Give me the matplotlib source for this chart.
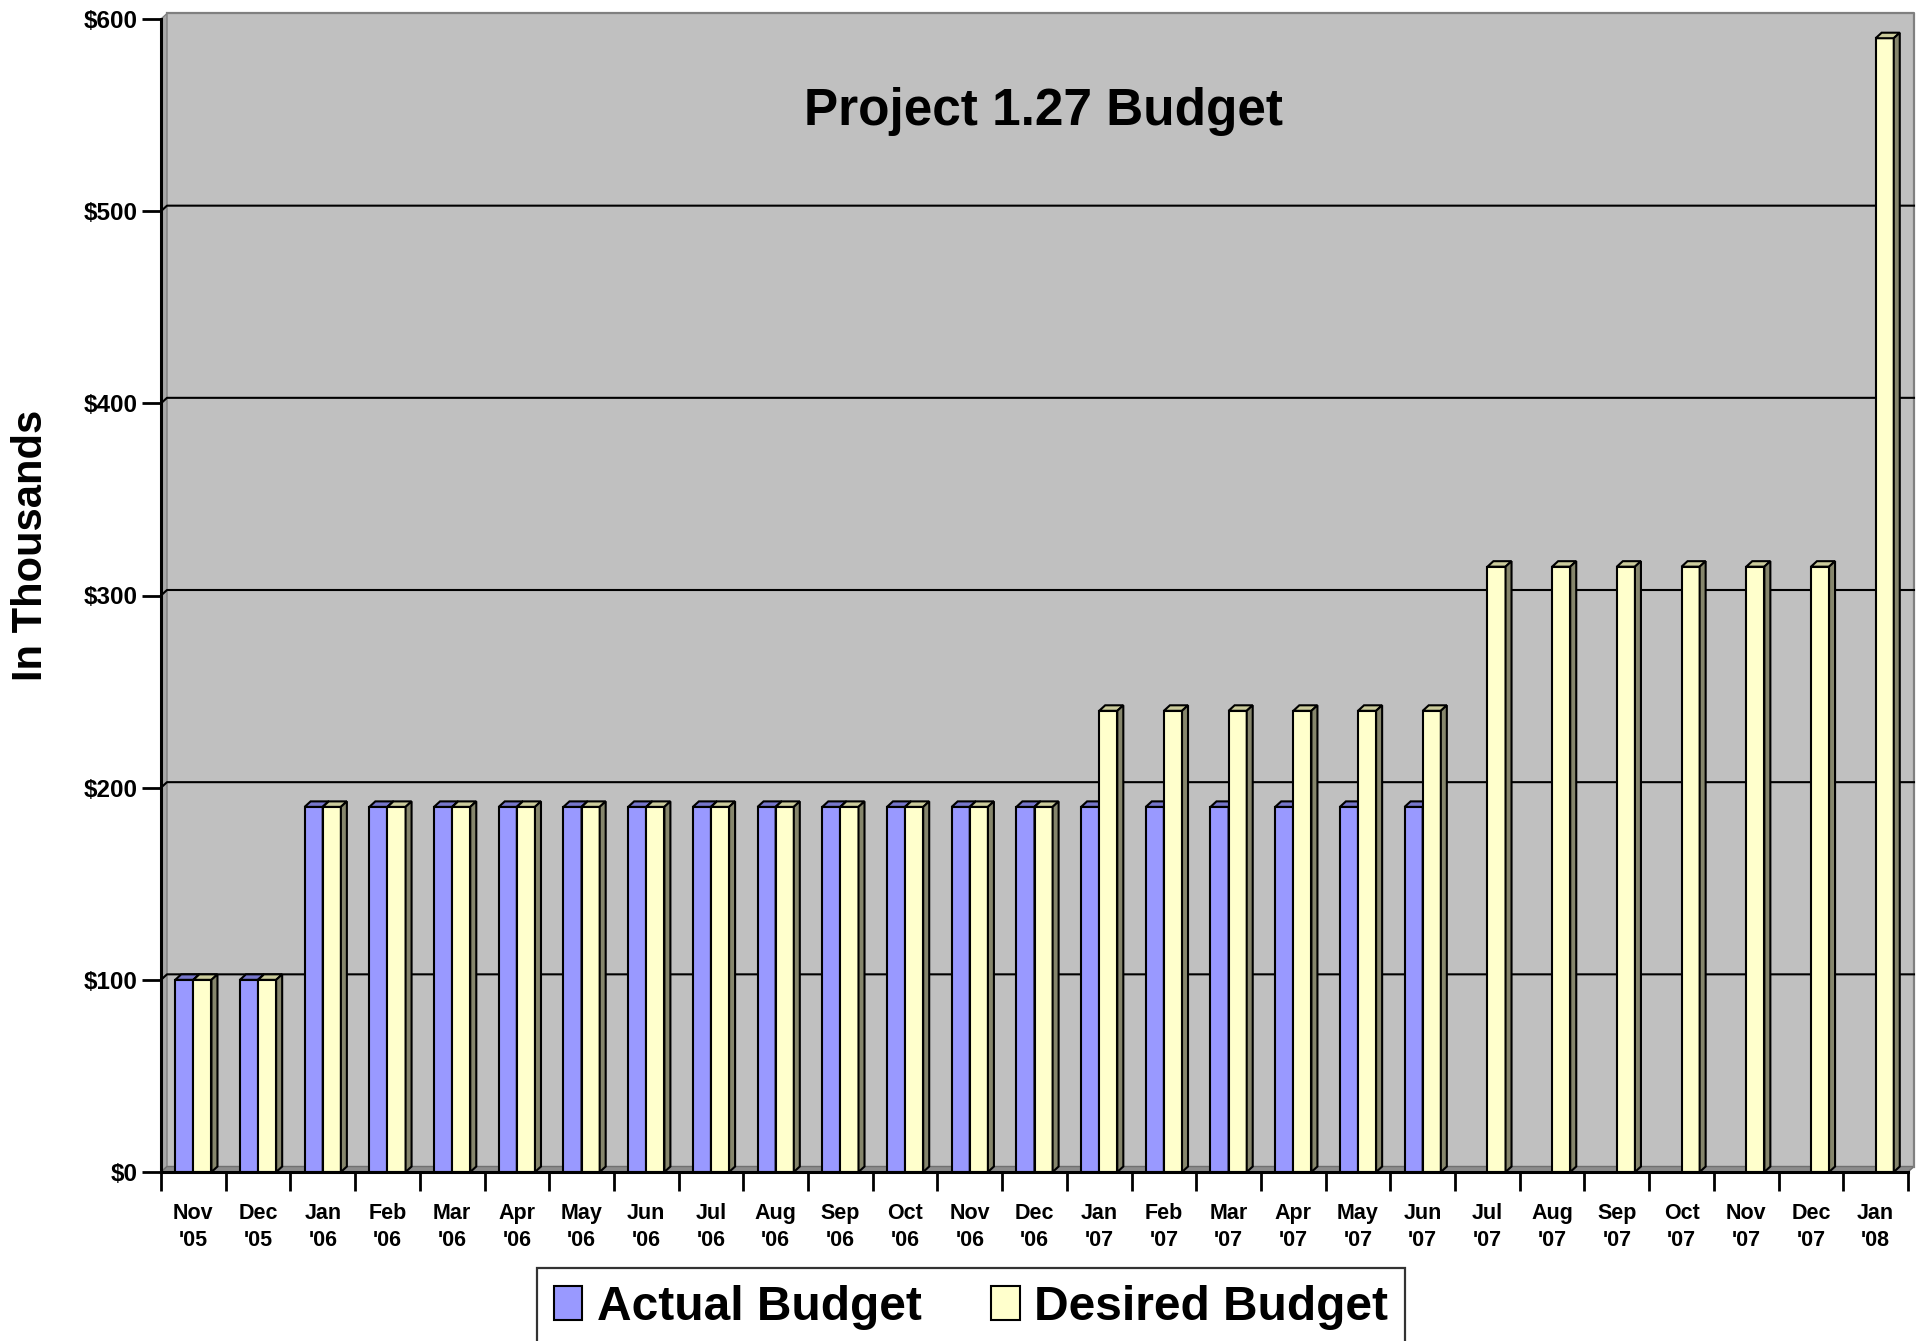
import numpy as np
import matplotlib.pyplot as plt
from matplotlib.patches import Polygon, Patch, Rectangle

plt.rcParams['font.family'] = ['Liberation Sans', 'DejaVu Sans']
plt.rcParams['font.weight'] = 'bold'

months = ["Nov\n'05", "Dec\n'05", "Jan\n'06", "Feb\n'06", "Mar\n'06", "Apr\n'06",
          "May\n'06", "Jun\n'06", "Jul\n'06", "Aug\n'06", "Sep\n'06", "Oct\n'06",
          "Nov\n'06", "Dec\n'06", "Jan\n'07", "Feb\n'07", "Mar\n'07", "Apr\n'07",
          "May\n'07", "Jun\n'07", "Jul\n'07", "Aug\n'07", "Sep\n'07", "Oct\n'07",
          "Nov\n'07", "Dec\n'07", "Jan\n'08"]
actual = [100, 100, 190, 190, 190, 190, 190, 190, 190, 190, 190, 190, 190, 190,
          190, 190, 190, 190, 190, 190, None, None, None, None, None, None, None]
desired = [100, 100, 190, 190, 190, 190, 190, 190, 190, 190, 190, 190, 190, 190,
           240, 240, 240, 240, 240, 240, 315, 315, 315, 315, 315, 315, 590]
yticks = [0, 100, 200, 300, 400, 500, 600]
ytick_labels = ["$0", "$100", "$200", "$300", "$400", "$500", "$600"]

series = [("Actual Budget", actual, "#9999ff", "#7777cc", "#55558a"),
          ("Desired Budget", desired, "#ffffcc", "#cccc9c", "#86866c")]

W, H = 1925, 1341
fig = plt.figure(figsize=(W / 100, H / 100), dpi=100)
ax = fig.add_axes([161 / W, (H - 1172) / H, 1747 / W, (1172 - 19) / H])
n = len(months)
ax.set_xlim(0, n)
ax.set_ylim(0, 600)
ax.set_facecolor("none")

# 3d depth in data units
ax_w = ax.get_position().width * W
ax_h = ax.get_position().height * H
dx = 6 * n / ax_w
dy = 5.5 * 600 / ax_h
bw = 0.28

# back wall, side wall, floor
ax.add_patch(Rectangle((dx, dy), n, 600, facecolor="#c0c0c0", edgecolor="none",
                       clip_on=False, zorder=0))
ax.plot([dx, n + dx, n + dx], [600 + dy, 600 + dy, dy], color="#808080", lw=1.6,
        clip_on=False, zorder=0.5)
ax.add_patch(Polygon([(0, 0), (0, 600), (dx, 600 + dy), (dx, dy)], closed=True,
                     facecolor="#a8a8a8", edgecolor="#808080", lw=1, clip_on=False, zorder=0.4))
ax.add_patch(Polygon([(0, 0), (n, 0), (n + dx, dy), (dx, dy)], closed=True,
                     facecolor="#8c8c8c", edgecolor="#707070", lw=1, clip_on=False, zorder=0.4))
for y in yticks[1:-1]:
    ax.plot([0, dx, n + dx], [y, y + dy, y + dy], color="black", lw=1.5,
            clip_on=False, zorder=1)

# bars with top and side faces
for k, (name, vals, front, top, side) in enumerate(series):
    z = 3 + k
    for i, v in enumerate(vals):
        if v is None:
            continue
        x0 = i + 0.5 - bw + k * bw
        x1 = x0 + bw
        ax.bar(x0, v, width=bw, align="edge", color=front, edgecolor="black",
               lw=1.5, zorder=z, clip_on=False)
        ax.add_patch(Polygon([(x0, v), (x1, v), (x1 + dx, v + dy), (x0 + dx, v + dy)],
                             closed=True, facecolor=top, edgecolor="black", lw=1.5,
                             zorder=z, clip_on=False))
        ax.add_patch(Polygon([(x1, 0), (x1, v), (x1 + dx, v + dy), (x1 + dx, dy)],
                             closed=True, facecolor=side, edgecolor="black", lw=1.5,
                             zorder=z, clip_on=False))

for s in ("top", "right"):
    ax.spines[s].set_visible(False)
for s in ("left", "bottom"):
    ax.spines[s].set_linewidth(2.2)
    ax.spines[s].set_zorder(6)

ax.set_yticks(yticks)
ax.set_yticklabels(ytick_labels, fontsize=17.5, fontweight="bold")
ax.tick_params(axis="y", length=13.5, width=2, pad=3.5, direction="out")
ax.set_xticks(np.arange(n + 1))
ax.set_xticklabels([])
ax.tick_params(axis="x", which="major", length=13.5, width=2, direction="out")
ax.set_xticks(np.arange(n) + 0.5, minor=True)
ax.set_xticklabels(months, minor=True, fontsize=15.5, fontweight="bold", linespacing=1.4)
ax.tick_params(axis="x", which="minor", length=0, pad=22)

fig.text(1044 / W, 1 - 125 / H, "Project 1.27 Budget", ha="center", va="baseline",
         fontsize=37, fontweight="bold")
fig.text(31 / W, 1 - 545 / H, "In Thousands", ha="center", va="center", rotation=90,
         fontsize=30, fontweight="bold")

handles = [Patch(facecolor=c, edgecolor="black", lw=1.5) for _, _, c, _, _ in series]
leg = fig.legend(handles, [s[0] for s in series], loc="upper center",
                 bbox_to_anchor=(971 / W, 1 - 1268 / H), ncol=2,
                 prop={"size": 34.5, "weight": "bold"}, frameon=True, fancybox=False,
                 edgecolor="black", borderaxespad=0, handlelength=0.6, handleheight=0.7,
                 handletextpad=0.3, columnspacing=1.45, borderpad=0.35)
leg.get_frame().set_linewidth(1.6)

fig.savefig("out.png", dpi=100, facecolor="white")
